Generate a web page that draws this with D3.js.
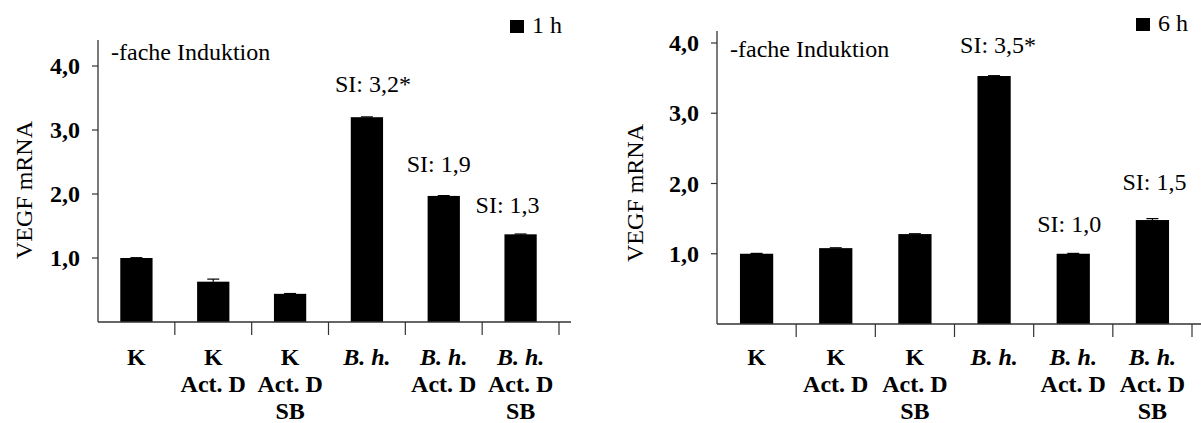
<!DOCTYPE html>
<html>
<head>
<meta charset="utf-8">
<script src="https://d3js.org/d3.v7.min.js"></script>
<style>
  body { margin: 0; background: #fff; }
  svg { display: block; }
  text { font-family: "Liberation Serif", "Times New Roman", serif; fill: #000; }
</style>
</head>
<body>
<div id="chart"></div>
<script>
// categories: each is a list of label lines, italic flag per line
const categories = [
  [['K', false]],
  [['K', false], ['Act. D', false]],
  [['K', false], ['Act. D', false], ['SB', false]],
  [['B. h.', true]],
  [['B. h.', true], ['Act. D', false]],
  [['B. h.', true], ['Act. D', false], ['SB', false]]
]
const yTicks = [1, 2, 3, 4]
const yTickLabels = ['1,0', '2,0', '3,0', '4,0']

// 1 h
const values1h = [1.0, 0.63, 0.44, 3.2, 1.97, 1.37]
const errors1h = [0.005, 0.04, 0.005, 0.005, 0.005, 0.005]
const si1h = ['', '', '', 'SI: 3,2*', 'SI: 1,9', 'SI: 1,3']

// 6 h
const values6h = [1.0, 1.08, 1.28, 3.53, 1.0, 1.48]
const errors6h = [0.005, 0.005, 0.005, 0.005, 0.005, 0.02]
const si6h = ['', '', '', 'SI: 3,5*', 'SI: 1,0', 'SI: 1,5']

const W = 1201, H = 423
const FS = 24

const svg = d3.select('#chart').append('svg')
  .attr('width', W).attr('height', H)

function stext(parent, x, y, str, opts = {}) {
  return parent.append('text')
    .attr('transform', `translate(${x},${y})` + (opts.rotate ? ` rotate(${opts.rotate})` : ''))
    .attr('text-anchor', opts.anchor || 'start')
    .style('font-size', FS + 'px')
    .style('font-weight', opts.bold ? 'bold' : 'normal')
    .style('font-style', opts.italic ? 'italic' : 'normal')
    .text(str)
}

function drawPanel(p) {
  const g = svg.append('g')

  const x = d3.scaleBand()
    .domain(d3.range(categories.length))
    .range([p.x0, p.x1])
    .paddingInner(0.58)
    .paddingOuter(0.29)
  const step = x.step()
  const y = d3.scaleLinear().domain([0, 4]).range([p.base, p.y4])

  // y axis line
  g.append('line')
    .attr('x1', p.x0).attr('x2', p.x0)
    .attr('y1', p.top).attr('y2', p.base)
    .attr('stroke', '#333').attr('stroke-width', 1.3)
  // y ticks + labels
  yTicks.forEach((t, i) => {
    g.append('line')
      .attr('x1', p.x0 - 6).attr('x2', p.x0)
      .attr('y1', y(t)).attr('y2', y(t))
      .attr('stroke', '#333').attr('stroke-width', 1.2)
    stext(g, p.x0 - 18, y(t) + 8, yTickLabels[i], { anchor: 'end', bold: true })
  })

  // bars
  g.selectAll('rect.bar')
    .data(p.values)
    .join('rect')
    .attr('class', 'bar')
    .attr('x', (d, i) => x(i))
    .attr('width', x.bandwidth())
    .attr('y', d => y(d))
    .attr('height', d => y(0) - y(d))
    .attr('fill', '#000')

  // error bars
  p.values.forEach((v, i) => {
    const cx = x(i) + x.bandwidth() / 2
    const top = y(v + p.errors[i])
    g.append('line')
      .attr('x1', cx).attr('x2', cx)
      .attr('y1', y(v)).attr('y2', top)
      .attr('stroke', '#000').attr('stroke-width', 1.2)
    g.append('line')
      .attr('x1', cx - 6).attr('x2', cx + 6)
      .attr('y1', top).attr('y2', top)
      .attr('stroke', '#000').attr('stroke-width', 1.2)
  })

  // x axis line
  g.append('line')
    .attr('x1', p.x0).attr('x2', p.xEnd)
    .attr('y1', p.base).attr('y2', p.base)
    .attr('stroke', '#333').attr('stroke-width', 1.3)
  // x ticks between categories
  categories.forEach((c, i) => {
    const tx = p.x0 + step * (i + 1)
    g.append('line')
      .attr('x1', tx).attr('x2', tx)
      .attr('y1', p.base).attr('y2', p.base + 13)
      .attr('stroke', '#333').attr('stroke-width', 1.2)
  })

  // category labels
  categories.forEach((lines, i) => {
    const cx = p.x0 + step * (i + 0.5)
    lines.forEach((ln, j) => {
      stext(g, cx, p.labelY + j * 27, ln[0], { anchor: 'middle', bold: true, italic: ln[1] })
    })
  })

  // SI annotations
  p.si.forEach((s, i) => {
    if (!s) return
    const cx = x(i) + x.bandwidth() / 2 + p.siDx[i]
    stext(g, cx, y(p.values[i]) - p.siDy[i], s, { anchor: 'middle' })
  })

  // header text and legend
  stext(g, p.x0 + 13, p.headY, '-fache Induktion')
  g.append('rect')
    .attr('x', p.legX).attr('y', p.legY)
    .attr('width', 14).attr('height', 13)
    .attr('fill', '#000')
  stext(g, p.legX + 22, p.legY + 13, p.legend)

  // y axis title
  stext(g, p.titleX, p.titleY, 'VEGF mRNA', { anchor: 'middle', rotate: -90 })
}

drawPanel({
  x0: 98, x1: 559, xEnd: 571, top: 40, base: 322, y4: 66,
  values: values1h, errors: errors1h, si: si1h,
  siDx: [0, 0, 0, 6, -5, -13], siDy: [0, 0, 0, 25, 24, 21],
  labelY: 365, headY: 60, legX: 510, legY: 20, legend: '1 h',
  titleX: 32, titleY: 190
})

drawPanel({
  x0: 717, x1: 1192, xEnd: 1201, top: 31, base: 324, y4: 43,
  values: values6h, errors: errors6h, si: si6h,
  siDx: [0, 0, 0, 4, -4, 2], siDy: [0, 0, 0, 23, 22, 30],
  labelY: 365, headY: 57, legX: 1136, legY: 18, legend: '6 h',
  titleX: 643, titleY: 193
})
</script>
</body>
</html>
